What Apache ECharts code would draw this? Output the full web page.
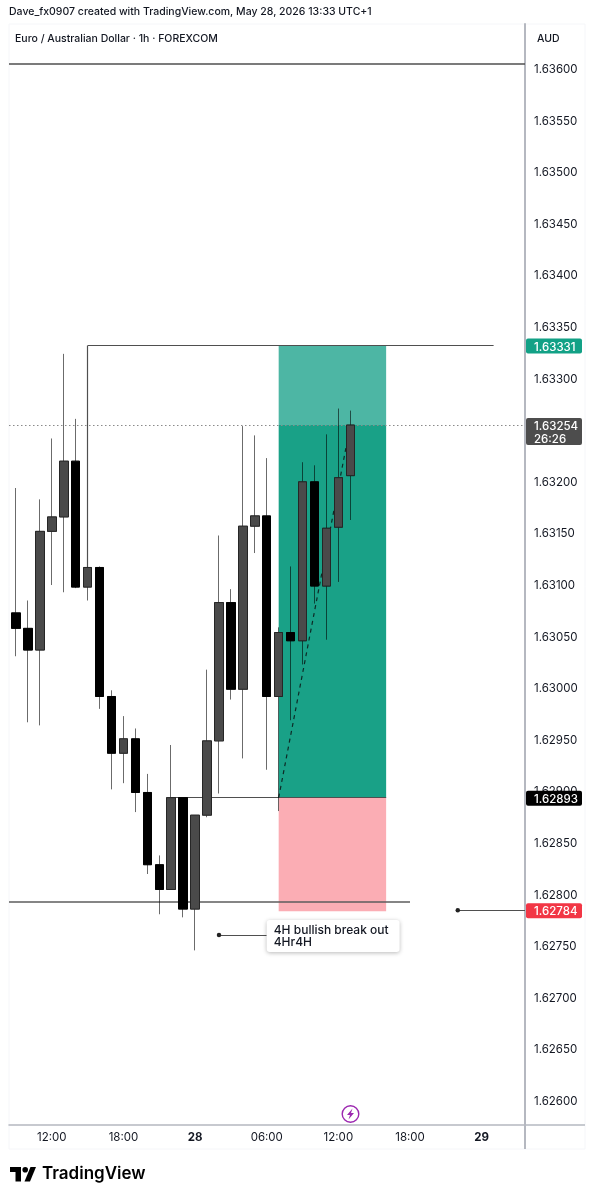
<!DOCTYPE html>
<html>
<head>
<meta charset="utf-8">
<style>html,body{margin:0;padding:0;background:#fff}#c{width:594px;height:1200px}</style>
<script src="https://cdn.jsdelivr.net/npm/echarts@6/dist/echarts.min.js"></script>
</head>
<body>
<div id="c"></div>
<script>
// Hour labels, one per hourly bar slot, from 09:00 on the 27th
const hourLabels = ['09:00','10:00','11:00','12:00','13:00','14:00','15:00','16:00','17:00','18:00','19:00','20:00','21:00','22:00','23:00','28',
  '01:00','02:00','03:00','04:00','05:00','06:00','07:00','08:00','09:00','10:00','11:00','12:00','13:00','14:00','15:00','16:00','17:00','18:00',
  '19:00','20:00','21:00','22:00','23:00','29','01:00','02:00','03:00'];
const timeTickSlots = [3, 9, 15, 21, 27, 33, 39];
const priceTicks = [1.626,1.6265,1.627,1.6275,1.628,1.6285,1.629,1.6295,1.63,1.6305,1.631,1.6315,1.632,1.6325,1.633,1.6335,1.634,1.6345,1.635,1.6355,1.636];

const opens  = [1.63072,1.63057,1.63036,1.63151,1.63165,1.63219,1.63097,1.63116,1.62991,1.62936,1.62950,1.62898,1.62828,1.62804,1.62893,1.62785,1.62876,1.62948,1.63082,1.62998,1.63156,1.63166,1.62991,1.63053,1.63045,1.63199,1.63098,1.63155,1.63205];
const closes = [1.63057,1.63036,1.63151,1.63165,1.63219,1.63097,1.63116,1.62991,1.62936,1.62950,1.62898,1.62828,1.62804,1.62893,1.62785,1.62876,1.62948,1.63082,1.62998,1.63156,1.63166,1.62991,1.63053,1.63045,1.63199,1.63098,1.63154,1.63203,1.63254];
const lows   = [1.63030,1.62966,1.62963,1.63099,1.63092,1.63096,1.63084,1.62979,1.62901,1.62907,1.62879,1.62819,1.62780,1.62804,1.62777,1.62745,1.62874,1.62897,1.62988,1.62931,1.63130,1.62920,1.62880,1.62968,1.63022,1.63081,1.63046,1.63102,1.63162];
const highs  = [1.63193,1.63084,1.63182,1.63241,1.63323,1.63260,1.63116,1.63117,1.62997,1.62972,1.62960,1.62916,1.62837,1.62944,1.62893,1.62876,1.63017,1.63147,1.63095,1.63253,1.63244,1.63222,1.63058,1.63117,1.63218,1.63215,1.63245,1.63270,1.63268];

// Trade drawing
const boxStart = 22, boxEnd = 31;
const targetPrice = 1.63331, entryPrice = 1.62893, stopPrice = 1.62783, lastPrice = 1.63254;
const topLevel = 1.63604, supportLevel = 1.62792, noteLevel = 1.6276, alertLevel = 1.62784;

// Axis range
const xMin = -0.586, xMax = 42.63, yMin = 1.625758, yMax = 1.636426;

// Price tags on the scale
const tagPrices = [1.63331, 1.63254, 1.62893, 1.62784];
const tagTexts  = ['1.63331', '1.63254\n26:26', '1.62893', '1.62784'];
const tagColors = ['#12a186', '#4d4d4d', '#000000', '#f23645'];

const font = 'Inter, "Noto Sans", sans-serif';
const ink = '#131722', rule = '#b5b8c0', drawLine = '#4f4f4f';

const seg = (x1, y1, x2, y2, style) => [{coord: [x1, y1], lineStyle: style}, {coord: [x2, y2]}];
const thin = {color: drawLine, width: 1.2, type: 'solid'};

const chart = echarts.init(document.getElementById('c'), null, {renderer: 'canvas'});
chart.setOption({
  animation: false,
  backgroundColor: '#ffffff',
  grid: {left: 9, right: 69, top: 24, bottom: 75},
  xAxis: {
    type: 'value', min: xMin, max: xMax, splitLine: {show: false},
    axisLine: {show: true, onZero: false, lineStyle: {color: rule, width: 1.5}},
    axisTick: {show: false},
    axisLabel: {
      customValues: timeTickSlots, margin: 7, fontFamily: font, fontSize: 11.5, color: ink,
      formatter: v => { const s = hourLabels[Math.round(v)]; return s.length === 2 ? '{b|' + s + '}' : s; },
      rich: {b: {fontFamily: font, fontSize: 11.5, fontWeight: 700, color: ink}}
    }
  },
  yAxis: {
    type: 'value', position: 'right', min: yMin, max: yMax, splitLine: {show: false},
    axisLine: {show: true, onZero: false, lineStyle: {color: rule, width: 2}},
    axisTick: {show: false},
    axisLabel: {
      customValues: priceTicks, margin: 9, fontFamily: font, fontSize: 11.5, color: ink,
      formatter: v => '{p|' + v.toFixed(5) + '}',
      rich: {p: {fontFamily: font, fontSize: 11.5, color: ink, padding: [3, 0, 0, 0]}}
    }
  },
  graphic: [
    {type: 'rect', silent: true, z: -1, shape: {x: 9, y: 24, width: 576, height: 1125}, style: {fill: 'none', stroke: '#f5f6f9', lineWidth: 1}},
    {type: 'line', silent: true, shape: {x1: 525, y1: 1125, x2: 525, y2: 1149}, style: {stroke: rule, lineWidth: 2}},
    {type: 'line', silent: true, shape: {x1: 525, y1: 1125, x2: 585, y2: 1125}, style: {stroke: rule, lineWidth: 1.5}},
    {type: 'text', x: 9, y: 6, style: {text: 'Dave_fx0907 created with TradingView.com, May 28, 2026 13:33 UTC+1', font: '500 10.5px ' + font, fill: ink}},
    {type: 'text', x: 15, y: 33, style: {text: 'Euro / Australian Dollar · 1h · FOREXCOM', font: '500 10.5px ' + font, fill: ink}},
    {type: 'text', x: 537, y: 33, style: {text: 'AUD', font: '500 10.5px ' + font, fill: ink}},
    {type: 'rect', shape: {x: 10, y: 1167, width: 11, height: 5}, style: {fill: '#000'}},
    {type: 'rect', shape: {x: 15.5, y: 1167, width: 5.5, height: 14.5}, style: {fill: '#000'}},
    {type: 'circle', shape: {cx: 25.2, cy: 1169.8, r: 2.8}, style: {fill: '#000'}},
    {type: 'polygon', shape: {points: [[30.5, 1167], [36, 1167], [30, 1181.5], [24.5, 1181.5]]}, style: {fill: '#000'}},
    {type: 'text', x: 42, y: 1165, style: {text: 'TradingView', font: '600 17px ' + font, fill: '#000'}},
    {type: 'circle', shape: {cx: 350.5, cy: 1114, r: 8.3}, style: {fill: '#fff', stroke: '#9c27b0', lineWidth: 1.4}},
    {type: 'polygon', shape: {points: [[352.5, 1108.5], [347, 1115], [350, 1115], [348.5, 1119.5], [354, 1113], [351, 1113]]}, style: {fill: '#9c27b0'}}
  ],
  series: [
    {
      name: 'Drawings', type: 'line', data: [], z: 1, silent: true,
      markArea: {
        silent: true, z: 1,
        data: [
          [{coord: [boxStart, targetPrice], itemStyle: {color: '#4db6a4'}}, {coord: [boxEnd, lastPrice]}],
          [{coord: [boxStart, lastPrice], itemStyle: {color: '#19a187'}}, {coord: [boxEnd, entryPrice]}],
          [{coord: [boxStart, entryPrice], itemStyle: {color: '#fbadb4'}}, {coord: [boxEnd, stopPrice]}]
        ]
      },
      markLine: {
        silent: true, z: 2, symbol: 'none', label: {show: false}, precision: 5,
        data: [
          seg(xMin, topLevel, xMax, topLevel, {color: drawLine, width: 1.5, type: 'solid'}),
          seg(xMin, lastPrice, xMax, lastPrice, {color: '#8a8a8a', width: 1, type: [1.5, 2.5]}),
          seg(6, targetPrice, 40, targetPrice, thin),
          seg(6, targetPrice, 6, closes[6], thin),
          seg(13, entryPrice, boxEnd, entryPrice, thin),
          seg(xMin, supportLevel, 33, supportLevel, {color: '#5c5c5c', width: 1.6, type: 'solid'}),
          seg(17, noteLevel, 21, noteLevel, thin),
          seg(37, alertLevel, xMax, alertLevel, thin),
          seg(boxStart, entryPrice, 28, lastPrice, {color: '#0d2a26', width: 1.2, type: [4, 4]})
        ]
      },
      markPoint: {
        silent: true, z: 3, symbol: 'circle', symbolSize: 4.5, itemStyle: {color: '#222'}, label: {show: false},
        data: [
          {coord: [17, noteLevel]},
          {coord: [37, alertLevel]},
          {
            coord: [21, noteLevel], symbolSize: 0,
            label: {
              show: true, position: 'right', distance: 0, offset: [0, 1], formatter: '4H bullish break out\n4Hr4H',
              fontFamily: font, fontSize: 12, fontWeight: 500, lineHeight: 12, color: ink,
              backgroundColor: '#fff', borderRadius: 3, padding: [4, 11, 4, 7],
              shadowColor: 'rgba(0,0,0,0.28)', shadowBlur: 4, shadowOffsetY: 1
            }
          }
        ]
      }
    },
    {
      name: 'EURAUD wicks', type: 'candlestick', z: 5, barWidth: 9, silent: true,
      data: opens.map((o, i) => [i, o, closes[i], lows[i], highs[i]]),
      itemStyle: {color: 'transparent', color0: 'transparent', borderColor: 'rgba(0,0,0,0.58)', borderColor0: 'rgba(0,0,0,0.58)', borderWidth: 1}
    },
    {
      name: 'EURAUD bodies', type: 'candlestick', z: 6, barWidth: 9,
      data: opens.map((o, i) => [i, o, closes[i], Math.min(o, closes[i]), Math.max(o, closes[i])]),
      itemStyle: {color: '#4a4a4a', color0: '#000000', borderColor: '#262626', borderColor0: '#000000', borderWidth: 1}
    },
    {
      name: 'Price tags', type: 'custom', z: 20, silent: true, clip: false,
      data: tagPrices.map(p => [xMax, p]),
      encode: {x: 0, y: 1},
      renderItem: (params, api) => {
        const pt = api.coord([api.value(0), api.value(1)]);
        const i = params.dataIndex;
        const h = tagTexts[i].indexOf('\n') >= 0 ? 27 : 15;
        const top = pt[1] - 7;
        return {
          type: 'group',
          children: [
            {type: 'rect', shape: {x: pt[0] + 1, y: top, width: 56, height: h, r: 2}, style: {fill: tagColors[i]}},
            {type: 'text', style: {x: pt[0] + 9, y: top + 2, text: tagTexts[i], fill: '#fff', font: '500 11.5px ' + font, lineHeight: 13}}
          ]
        };
      }
    }
  ]
});
</script>
</body>
</html>
